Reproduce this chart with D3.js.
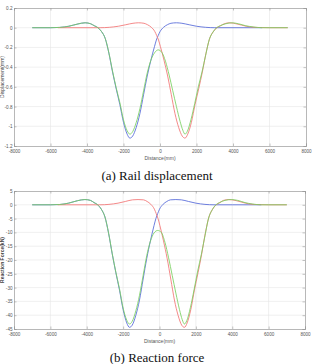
<!DOCTYPE html>
<html><head><meta charset="utf-8">
<script src="https://cdn.jsdelivr.net/npm/d3@7"></script>
<style>
html,body{margin:0;padding:0;background:#fff;}
svg{display:block;}
</style></head>
<body>
<svg id="chart" width="312" height="364"></svg>
<script>
// ---------- data ----------
const xTicks = [-8000,-6000,-4000,-2000,0,2000,4000,6000,8000];
const dispTicks = [0.2,0,-0.2,-0.4,-0.6,-0.8,-1,-1.2];
const forceTicks = [5,0,-5,-10,-15,-20,-25,-30,-35,-40,-45];

const blueX = [-7000,-6000,-5500,-5000,-4500,-4100,-3800,-3600,-3400,-3200,-3000,-2800,-2600,-2400,-2200,-2000,-1800,-1650,-1500,-1300,-1100,-900,-700,-500,-300,-200,-100,0,200,400,600,900,1200,1600,2000,2500,3000,4000,5600];
const blueDisp = [0,0,0.003,0.015,0.038,0.05,0.04,0.02,0,-0.04,-0.11,-0.26,-0.45,-0.62,-0.78,-0.96,-1.08,-1.12,-1.10,-1.01,-0.87,-0.68,-0.49,-0.33,-0.19,-0.125,-0.08,-0.04,0.005,0.03,0.045,0.05,0.045,0.03,0.015,0.004,0,0,0];
const blueForce = [0,0,0.1,0.6,1.5,1.9,1.6,0.8,0,-1.6,-4.4,-10.3,-17.8,-24.6,-30.9,-38.0,-42.8,-44.4,-43.6,-40.0,-34.5,-26.9,-19.4,-13.1,-7.5,-5.0,-3.2,-1.6,0.2,1.2,1.8,1.9,1.8,1.2,0.6,0.15,0,0,0];

const redX = [-5600,-3280,-2780,-2280,-1880,-1480,-1180,-880,-680,-480,-280,-180,-80,20,220,420,620,820,1020,1220,1370,1520,1720,1920,2120,2320,2520,2720,2920,3120,3320,3520,3820,4220,4720,5220,6000,7000];
const redDisp = [0,0,0.004,0.015,0.03,0.045,0.05,0.045,0.03,0.005,-0.04,-0.08,-0.125,-0.19,-0.33,-0.49,-0.68,-0.87,-1.01,-1.10,-1.12,-1.08,-0.96,-0.78,-0.62,-0.45,-0.26,-0.11,-0.04,0,0.02,0.04,0.05,0.038,0.015,0.003,0,0];
const redForce = [0,0,0.15,0.6,1.2,1.8,1.9,1.8,1.2,0.2,-1.6,-3.2,-5.0,-7.5,-13.1,-19.4,-26.9,-34.5,-40.0,-43.6,-44.4,-42.8,-38.0,-30.9,-24.6,-17.8,-10.3,-4.4,-1.6,0,0.8,1.6,1.9,1.5,0.6,0.1,0,0];

const greenX = [-7000,-6000,-5500,-5000,-4500,-4100,-3800,-3600,-3400,-3200,-3000,-2800,-2600,-2400,-2200,-2000,-1800,-1650,-1500,-1300,-1100,-900,-700,-500,-300,-100,100,300,500,700,900,1100,1250,1370,1500,1700,1900,2100,2300,2500,2700,2900,3100,3300,3600,3950,4300,4700,5100,5600,7000];
const greenDisp = [0,0,0.003,0.015,0.038,0.05,0.04,0.02,0,-0.04,-0.11,-0.255,-0.44,-0.61,-0.76,-0.935,-1.045,-1.08,-1.055,-0.96,-0.82,-0.64,-0.46,-0.33,-0.255,-0.225,-0.25,-0.34,-0.48,-0.64,-0.80,-0.95,-1.04,-1.08,-1.05,-0.93,-0.77,-0.60,-0.45,-0.28,-0.12,-0.045,0,0.02,0.04,0.05,0.04,0.02,0.008,0,0];
const greenForce = [0,0,0.1,0.6,1.5,1.9,1.6,0.8,0,-1.6,-4.4,-10.2,-17.6,-24.4,-30.4,-37.4,-41.8,-43.2,-42.2,-38.4,-32.8,-25.6,-18.4,-13.2,-10.2,-9.3,-10.0,-13.6,-19.2,-25.6,-32.0,-38.0,-41.6,-43.2,-42.0,-37.2,-30.8,-24.0,-18.0,-11.2,-4.8,-1.8,0,0.8,1.6,1.9,1.6,0.8,0.3,0,0];

const colors = {blue:"#5468d8", red:"#f27474", green:"#78d060"};

// ---------- drawing ----------
const svg = d3.select("#chart");
const SANS = "'Liberation Sans', Arial, sans-serif";

function panel(cfg){
  const g = svg.append("g");
  const x = d3.scaleLinear().domain([-8000,8000]).range([cfg.left,cfg.right]);
  const y = d3.scaleLinear().domain(cfg.yDomain).range([cfg.bottom,cfg.top]);
  g.append("rect").attr("x",cfg.left).attr("y",cfg.top)
    .attr("width",cfg.right-cfg.left).attr("height",cfg.bottom-cfg.top)
    .attr("fill","#fff");
  g.append("g").selectAll("line").data(xTicks.slice(1,-1)).join("line")
    .attr("x1",d=>x(d)).attr("x2",d=>x(d)).attr("y1",cfg.top).attr("y2",cfg.bottom)
    .attr("stroke","#e6e6e6").attr("stroke-width",0.6);
  g.append("g").selectAll("line").data(cfg.yTicks.slice(1,-1)).join("line")
    .attr("y1",d=>y(d)).attr("y2",d=>y(d)).attr("x1",cfg.left).attr("x2",cfg.right)
    .attr("stroke","#e6e6e6").attr("stroke-width",0.6);
  const ax = d3.axisBottom(x).tickValues(xTicks).tickSize(-2.5).tickPadding(3.5)
    .tickFormat(d=>String(d));
  const axT = d3.axisTop(x).tickValues(xTicks).tickSize(-2.5).tickFormat("");
  const ay = d3.axisLeft(y).tickValues(cfg.yTicks).tickSize(-2.5).tickPadding(1.5)
    .tickFormat(d=>String(d));
  const ayR = d3.axisRight(y).tickValues(cfg.yTicks).tickSize(-2.5).tickFormat("");
  const styleAxis = s=>{
    s.select(".domain").attr("stroke","#9a9a9a").attr("stroke-width",0.7);
    s.selectAll(".tick line").attr("stroke","#9a9a9a").attr("stroke-width",0.6);
    s.selectAll("text").attr("fill","#555").attr("font-size","4.6px")
      .attr("font-family",SANS);
  };
  g.append("g").attr("transform",`translate(0,${cfg.bottom})`).call(ax).call(styleAxis);
  g.append("g").attr("transform",`translate(0,${cfg.top})`).call(axT).call(styleAxis);
  g.append("g").attr("transform",`translate(${cfg.left},0)`).call(ay).call(styleAxis);
  g.append("g").attr("transform",`translate(${cfg.right},0)`).call(ayR).call(styleAxis);

  const line = d3.line().x(d=>x(d[0])).y(d=>y(d[1])).curve(d3.curveMonotoneX);
  cfg.series.forEach(s=>{
    g.append("path").datum(d3.zip(s.x,s.y)).attr("d",line)
      .attr("fill","none").attr("stroke",s.color).attr("stroke-width",0.85);
  });

  g.append("text").attr("x",(cfg.left+cfg.right)/2).attr("y",cfg.bottom+14)
    .attr("text-anchor","middle").attr("font-size","5px").attr("fill","#555")
    .attr("font-family",SANS).text("Distance(mm)");
  g.append("text").attr("transform",`translate(4,${(cfg.top+cfg.bottom)/2}) rotate(-90)`)
    .attr("text-anchor","middle").attr("font-size","5px").attr("fill","#444")
    .attr("font-weight",cfg.ylabelBold?"bold":"normal")
    .attr("font-family",SANS).text(cfg.ylabel);
  g.append("text").attr("x",157).attr("y",cfg.captionY)
    .attr("text-anchor","middle").attr("font-size","13px").attr("fill","#111")
    .attr("font-family","'Liberation Serif', 'Times New Roman', serif").text(cfg.caption);
}

panel({left:14,right:306,top:8,bottom:146,yDomain:[-1.2,0.2],yTicks:dispTicks,
  ylabel:"Displacement(mm)",caption:"(a) Rail displacement",captionY:180,
  series:[{x:blueX,y:blueDisp,color:colors.blue},{x:redX,y:redDisp,color:colors.red},{x:greenX,y:greenDisp,color:colors.green}]});

panel({left:14,right:305,top:191,bottom:329,yDomain:[-45,5],yTicks:forceTicks,
  ylabel:"Reaction Force(kN)",ylabelBold:true,caption:"(b) Reaction force",captionY:362,
  series:[{x:blueX,y:blueForce,color:colors.blue},{x:redX,y:redForce,color:colors.red},{x:greenX,y:greenForce,color:colors.green}]});
</script>
</body></html>
